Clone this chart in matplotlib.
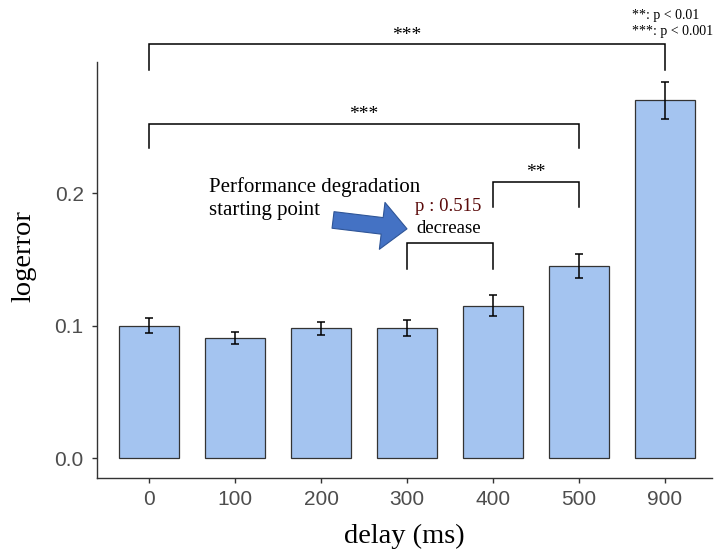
import matplotlib
matplotlib.use("Agg")
import matplotlib.pyplot as plt
import numpy as np

categories = ["0", "100", "200", "300", "400", "500", "900"]
values = [0.100, 0.091, 0.098, 0.098, 0.115, 0.145, 0.270]
errors = [0.0057, 0.0045, 0.005, 0.006, 0.0078, 0.009, 0.014]

# significance brackets: (start index, end index, bar height, leg bottom, label)
brackets = [
    (0, 6, 0.312, 0.2925, "***"),
    (0, 5, 0.2519, 0.2338, "***"),
    (4, 5, 0.2083, 0.1895, "**"),
    (3, 4, 0.1624, 0.1429, ""),
]

serif = ["Liberation Serif", "DejaVu Serif"]
sans = ["Liberation Sans", "DejaVu Sans"]

fig = plt.figure(figsize=(7.16, 5.5), dpi=100)
ax = fig.add_axes([97/716, 1-478/550, (712-97)/716, (478-62)/550])

x = np.arange(len(categories))
ax.bar(x, values, width=0.7, color="#A4C4F0", edgecolor="#333333", linewidth=0.9, zorder=2)
ax.errorbar(x, values, yerr=errors, fmt="none", ecolor="black", elinewidth=1.1,
            capsize=3, capthick=1.1, zorder=3)

ax.set_xlim(-0.605, 6.547)
ax.set_ylim(-0.0147, 0.2987)
ax.set_xticks(x)
ax.set_xticklabels(categories)
ax.set_yticks([0.0, 0.1, 0.2])
ax.set_yticklabels(["0.0", "0.1", "0.2"])
for lab in ax.get_xticklabels() + ax.get_yticklabels():
    lab.set_fontfamily(sans)
    lab.set_fontsize(15)
    lab.set_color("#4D4D4D")
ax.tick_params(axis="both", length=3.6, width=1.0, color="#333333")
ax.tick_params(axis="x", pad=5)
ax.tick_params(axis="y", pad=6)

for s in ["top", "right"]:
    ax.spines[s].set_visible(False)
for s in ["left", "bottom"]:
    ax.spines[s].set_color("#333333")
    ax.spines[s].set_linewidth(1.0)

ax.set_xlabel("delay (ms)", fontsize=20.5, family=serif, labelpad=11)
ax.set_ylabel("logerror", fontsize=20.5, family=serif)
ax.yaxis.set_label_coords(-0.098, 0.534)

for i0, i1, top, bot, lab in brackets:
    ax.plot([i0, i0, i1, i1], [bot, top, top, bot], color="black", lw=1.1,
            clip_on=False, zorder=4, solid_joinstyle="miter")
    if lab:
        ax.text((i0 + i1) / 2, top + 0.0005, lab, ha="center", va="bottom",
                fontsize=14, family=serif, clip_on=False)

ax.text(3.48, 0.1895, "p : 0.515", ha="center", va="center", fontsize=13.5,
        family=serif, color="#5A0A0A")
ax.text(3.48, 0.173, "decrease", ha="center", va="center", fontsize=13.5,
        family=serif, color="black")

ax.text(0.70, 0.1956, "Performance degradation\nstarting point", ha="left", va="center",
        fontsize=15, family=serif, linespacing=1.3)

ax.annotate("", xy=(3.0, 0.173), xytext=(2.14, 0.1797),
            arrowprops=dict(arrowstyle="simple,head_length=1.8,head_width=3.4,tail_width=1.2",
                            mutation_scale=10, fc="#4472C4", ec="#2F5597", lw=0.8,
                            shrinkA=0, shrinkB=0))

fig.text(632/716, 1-15/550, "**: p < 0.01", ha="left", va="center", fontsize=10, family=serif)
fig.text(632/716, 1-32/550, "***: p < 0.001", ha="left", va="center", fontsize=10, family=serif)

fig.savefig("out.png", dpi=100)
